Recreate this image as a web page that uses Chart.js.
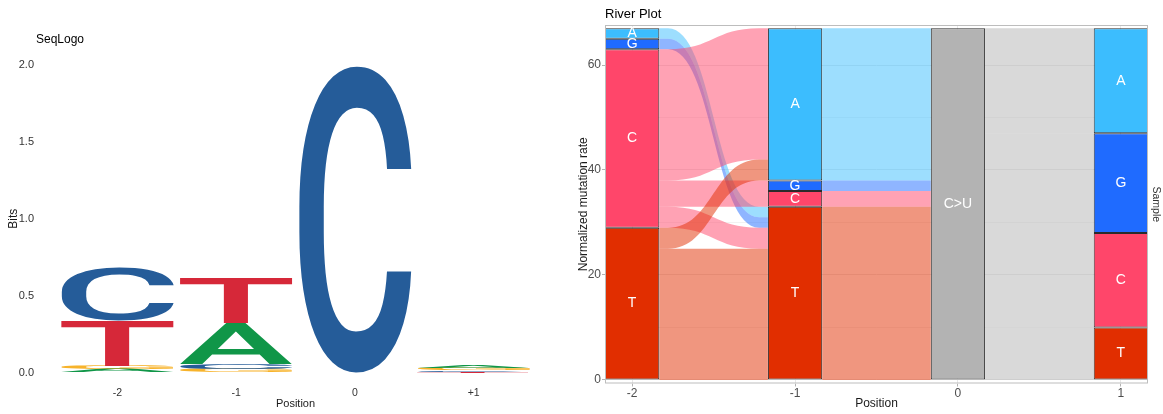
<!DOCTYPE html>
<html>
<head>
<meta charset="utf-8">
<script src="https://cdn.jsdelivr.net/npm/chart.js@4"></script>
<style>
  body { margin: 0; background: #fff; }
  #logo { position: absolute; left: 0; top: 0; }
  #river { position: absolute; left: 565px; top: 0; }
</style>
</head>
<body>
<canvas id="logo" width="565" height="414"></canvas>
<canvas id="river" width="598" height="414"></canvas>
<script>
// SEQ LOGO DATA (bits per letter at each position)
const logoPositions = ["-2", "-1", "0", "+1"];
const bitsA = [0.022, 0.27, 0, 0.016];
const bitsC = [0.343, 0.032, 2.0, 0.012];
const bitsG = [0.022, 0.022, 0, 0.014];
const bitsT = [0.29, 0.295, 0, 0.004];
const logoTicks = [0, 0.5, 1, 1.5, 2];

// RIVER PLOT DATA
const positions = [-2, -1, 0, 1];
const strataA = [2, 29, null, 20];
const strataG = [2, 2, null, 19];
const strataC = [34, 3, null, 18];
const strataT = [29, 33, null, 10];
const strataCU = [null, null, 67, null];
const yTicks = [0, 10, 20, 30, 40, 50, 60];
const yTickLabels = ["0", "", "20", "", "40", "", "60"];

// flows between neighbouring positions: [from, to, amount]
const flowsM2 = [
  ["A", "T", 2], ["G", "T", 2],
  ["C", "A", 25], ["C", "G", 2], ["C", "C", 3], ["C", "T", 4],
  ["T", "A", 4], ["T", "T", 25],
];
const flowsM1 = [["A", "C>U", 29], ["G", "C>U", 2], ["C", "C>U", 3], ["T", "C>U", 33]];
const flowsZero = [["C>U", "A", 20], ["C>U", "G", 19], ["C>U", "C", 18], ["C>U", "T", 10]];
const gaps = [flowsM2, flowsM1, flowsZero];

Chart.defaults.font.family = '"Liberation Sans", Arial, sans-serif';
Chart.defaults.animation = false;

const logoColors = { A: "#109648", C: "#255C99", G: "#F7B32B", T: "#D62839" };
const riverColors = { A: "#3CBDFE", G: "#1F6BFF", C: "#FF466A", T: "#E12E00", "C>U": "#B3B3B3" };

// text title in the top left corner
const plotTitle = {
  id: "plotTitle",
  afterDraw(chart, args, opts) {
    const ctx = chart.ctx;
    ctx.save();
    ctx.font = opts.size + 'px "Liberation Sans", Arial, sans-serif';
    ctx.fillStyle = "#000";
    ctx.textAlign = "left";
    ctx.textBaseline = "middle";
    ctx.fillText(opts.text, chart.chartArea.left + opts.dx, opts.y);
    ctx.restore();
  },
};

// ---------- SEQ LOGO ----------
const logoLetters = ["A", "C", "G", "T"];
const logoBits = { A: bitsA, C: bitsC, G: bitsG, T: bitsT };

// one stacked layer per rank, smallest letter at the bottom
const layers = logoLetters.map(() => ({ data: [], letters: [] }));
logoPositions.forEach((p, i) => {
  const sorted = logoLetters
    .map((l) => [l, logoBits[l][i]])
    .sort((a, b) => a[1] - b[1]);
  sorted.forEach(([l, v], k) => {
    layers[k].data.push(v);
    layers[k].letters.push(l);
  });
});

function drawGlyph(ctx, ch, x, y, w, h, color) {
  ctx.save();
  ctx.font = '500 200px Roboto, "Liberation Sans", sans-serif';
  ctx.textAlign = "left";
  ctx.textBaseline = "alphabetic";
  const m = ctx.measureText(ch);
  const gl = -m.actualBoundingBoxLeft;
  const gr = m.actualBoundingBoxRight;
  const gt = -m.actualBoundingBoxAscent;
  const gb = m.actualBoundingBoxDescent;
  ctx.translate(x, y);
  ctx.scale(w / (gr - gl), h / (gb - gt));
  ctx.translate(-gl, -gt);
  ctx.fillStyle = color;
  ctx.fillText(ch, 0, 0);
  ctx.restore();
}

const logoGlyphs = {
  id: "logoGlyphs",
  afterDatasetsDraw(chart) {
    chart.data.datasets.forEach((ds, di) => {
      chart.getDatasetMeta(di).data.forEach((bar, i) => {
        const h = Math.abs(bar.base - bar.y);
        if (!ds.data[i] || h < 0.3) return;
        const l = ds.letters[i];
        drawGlyph(chart.ctx, l, bar.x - bar.width / 2, Math.min(bar.y, bar.base), bar.width, h, logoColors[l]);
      });
    });
  },
};

new Chart(document.getElementById("logo"), {
  type: "bar",
  data: {
    labels: logoPositions,
    datasets: layers.map((l) => ({
      data: l.data,
      letters: l.letters,
      backgroundColor: "rgba(0,0,0,0)",
      barPercentage: 0.95,
      categoryPercentage: 1,
    })),
  },
  options: {
    responsive: false,
    layout: { padding: { top: 65, right: 32, left: 0, bottom: 0 } },
    plugins: {
      legend: { display: false },
      tooltip: { enabled: false },
      plotTitle: { text: "SeqLogo", dx: -22, y: 40, size: 12 },
    },
    scales: {
      x: {
        stacked: true,
        grid: { display: false, drawTicks: false },
        border: { display: false },
        ticks: { color: "#333", font: { size: 10.5 }, padding: 14 },
        title: { display: true, text: "Position", color: "#1A1A1A", font: { size: 11 }, padding: { top: 0, bottom: 3 } },
        afterFit: (s) => { s.height = 41.5; },
      },
      y: {
        stacked: true,
        min: 0,
        max: 2,
        grid: { display: false, drawTicks: false },
        border: { display: false },
        afterBuildTicks: (s) => { s.ticks = logoTicks.map((v) => ({ value: v })); },
        ticks: { color: "#333", font: { size: 11 }, padding: 24, callback: (v) => v.toFixed(1) },
        title: { display: true, text: "Bits", color: "#1A1A1A", font: { size: 12 }, padding: { top: 6, bottom: 0 } },
        afterFit: (s) => { s.width = 58; },
      },
    },
  },
  plugins: [logoGlyphs, plotTitle],
});

// ---------- RIVER PLOT ----------
const strata = { A: strataA, G: strataG, C: strataC, T: strataT, "C>U": strataCU };
const stackOrder = ["T", "C", "G", "A", "C>U"]; // bottom to top
const topDown = ["C>U", "A", "G", "C", "T"];
const rank = (k) => topDown.indexOf(k);

function stratumSpan(i, key) {
  let lo = 0;
  for (const k of stackOrder) {
    const v = strata[k][i] || 0;
    if (k === key) return [lo, lo + v];
    lo += v;
  }
}

const riverFlows = {
  id: "riverFlows",
  beforeDatasetsDraw(chart) {
    const { ctx, scales: { x, y } } = chart;
    const bw = chart.getDatasetMeta(0).data[0].width;
    const flat = 0.08;
    ctx.save();
    gaps.forEach((flows, g) => {
      const left = new Map(), right = new Map();
      const outTop = {}, inTop = {};
      // lodes stack downward from the top of each stratum
      flows.slice().sort((a, b) => rank(a[1]) - rank(b[1])).forEach((f) => {
        if (!(f[0] in outTop)) outTop[f[0]] = stratumSpan(g, f[0])[1];
        left.set(f, [outTop[f[0]] - f[2], outTop[f[0]]]);
        outTop[f[0]] -= f[2];
      });
      flows.slice().sort((a, b) => rank(a[0]) - rank(b[0])).forEach((f) => {
        if (!(f[1] in inTop)) inTop[f[1]] = stratumSpan(g + 1, f[1])[1];
        right.set(f, [inTop[f[1]] - f[2], inTop[f[1]]]);
        inTop[f[1]] -= f[2];
      });
      const x0 = x.getPixelForValue(positions[g]) + bw / 2;
      const x1 = x.getPixelForValue(positions[g + 1]) - bw / 2;
      const xa = x0 + (x1 - x0) * flat;
      const xb = x1 - (x1 - x0) * flat;
      const xm = (xa + xb) / 2;
      flows.forEach((f) => {
        const [l0, l1] = left.get(f).map((v) => y.getPixelForValue(v));
        const [r0, r1] = right.get(f).map((v) => y.getPixelForValue(v));
        ctx.beginPath();
        ctx.moveTo(x0, l1);
        ctx.lineTo(xa, l1);
        ctx.bezierCurveTo(xm, l1, xm, r1, xb, r1);
        ctx.lineTo(x1, r1);
        ctx.lineTo(x1, r0);
        ctx.lineTo(xb, r0);
        ctx.bezierCurveTo(xm, r0, xm, l0, xa, l0);
        ctx.lineTo(x0, l0);
        ctx.closePath();
        ctx.fillStyle = riverColors[f[0]] + "80";
        ctx.fill();
      });
    });
    ctx.restore();
  },
};

// white stratum names and the panel frame
const strataLabels = {
  id: "strataLabels",
  afterDatasetsDraw(chart) {
    const ctx = chart.ctx;
    ctx.save();
    ctx.font = '14px "Liberation Sans", Arial, sans-serif';
    ctx.fillStyle = "#fff";
    ctx.textAlign = "center";
    ctx.textBaseline = "middle";
    chart.data.datasets.forEach((ds, di) => {
      chart.getDatasetMeta(di).data.forEach((bar, i) => {
        if (!ds.data[i] || ds.data[i].y == null) return;
        ctx.fillText(ds.label, bar.x, (bar.y + bar.base) / 2);
      });
    });
    const a = chart.chartArea;
    ctx.strokeStyle = "#BDBDBD";
    ctx.lineWidth = 1;
    ctx.strokeRect(a.left + 0.5, a.top + 0.5, a.right - a.left - 1, a.bottom - a.top - 1);
    ctx.restore();
  },
};

new Chart(document.getElementById("river"), {
  type: "bar",
  data: {
    datasets: stackOrder.map((k) => ({
      label: k,
      data: positions.map((p, i) => ({ x: p, y: strata[k][i] })),
      backgroundColor: riverColors[k],
      borderColor: "#2B2B2B",
      borderWidth: 1,
      borderSkipped: false,
      barPercentage: 1 / 3,
      categoryPercentage: 1,
    })),
  },
  options: {
    responsive: false,
    layout: { padding: { top: 25, right: 0, left: 0, bottom: 0 } },
    plugins: {
      legend: { display: false },
      tooltip: { enabled: false },
      plotTitle: { text: "River Plot", dx: 0, y: 14, size: 13 },
    },
    scales: {
      x: {
        type: "linear",
        stacked: true,
        offset: false,
        min: positions[0] - 1 / 6,
        max: positions[positions.length - 1] + 1 / 6,
        grid: { offset: false, color: "#E8E8E8", tickColor: "#B3B3B3", tickLength: 3 },
        border: { display: false },
        afterBuildTicks: (s) => { s.ticks = positions.map((v) => ({ value: v })); },
        ticks: { color: "#4D4D4D", font: { size: 12 }, padding: 0, callback: (v) => String(v) },
        title: { display: true, text: "Position", color: "#1A1A1A", font: { size: 12 }, padding: { top: 0, bottom: 3 } },
        afterFit: (s) => { s.height = 30.5; },
      },
      y: {
        stacked: true,
        min: -0.67,
        max: 67.62,
        grid: {
          color: (c) => (yTickLabels[yTicks.indexOf(c.tick.value)] ? "#E8E8E8" : "#F2F2F2"),
          tickColor: (c) => (yTickLabels[yTicks.indexOf(c.tick.value)] ? "#B3B3B3" : "rgba(0,0,0,0)"),
          tickLength: 3,
        },
        border: { display: false },
        afterBuildTicks: (s) => { s.ticks = yTicks.map((v) => ({ value: v })); },
        ticks: { color: "#4D4D4D", font: { size: 12 }, padding: 1, callback: (v) => yTickLabels[yTicks.indexOf(v)] },
        title: { display: true, text: "Normalized mutation rate", color: "#1A1A1A", font: { size: 12 }, padding: { top: 11, bottom: 0 } },
        afterFit: (s) => { s.width = 40; },
      },
      y2: {
        position: "right",
        grid: { display: false, drawTicks: false },
        border: { display: false },
        ticks: { display: false },
        title: { display: true, text: "Sample", color: "#333", font: { size: 10.5 }, padding: { top: 1, bottom: 0 } },
        afterFit: (s) => { s.width = 15; },
      },
    },
  },
  plugins: [riverFlows, strataLabels, plotTitle],
});
</script>
</body>
</html>
